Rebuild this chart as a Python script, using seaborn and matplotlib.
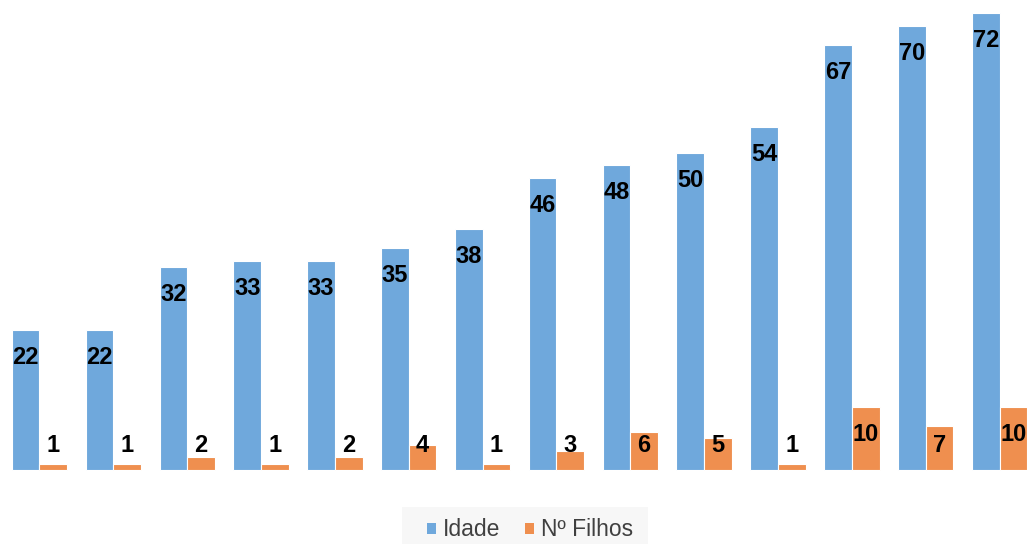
import matplotlib
matplotlib.use("Agg")
import matplotlib.pyplot as plt
from matplotlib.patches import Patch, Rectangle
import seaborn as sns
import pandas as pd

# Series values per person (ordered by age)
idade = [22, 22, 32, 33, 33, 35, 38, 46, 48, 50, 54, 67, 70, 72]
filhos = [1, 1, 2, 1, 2, 4, 1, 3, 6, 5, 1, 10, 7, 10]
series_names = ["Idade", "Nº Filhos"]
colors = ["#6FA8DC", "#EF8F4F"]

n = len(idade)
df = pd.DataFrame({
    "pessoa": list(range(n)) * 2,
    "valor": idade + filhos,
    "serie": [series_names[0]] * n + [series_names[1]] * n,
})

sns.set_theme(style="white")
plt.rcParams["font.family"] = ["Liberation Sans", "DejaVu Sans"]

W, H, DPI = 1027, 544, 100
fig = plt.figure(figsize=(W / DPI, H / DPI), dpi=DPI)
ax = fig.add_axes([0, 0, 1, 1])

sns.barplot(data=df, x="pessoa", y="valor", hue="serie",
            palette=colors, saturation=1, width=0.75, gap=0, dodge=True,
            edgecolor="white", linewidth=0.8, legend=False, ax=ax)

# Axis scaling: bar baseline and group spacing in pixels
px_per_unit = 6.347
base_px = 74
group_px = 73.85
first_center_px = 39.5
ax.set_xlim(-first_center_px / group_px, (W - first_center_px) / group_px)
ax.set_ylim(-base_px / px_per_unit, (H - base_px) / px_per_unit)
ax.axis("off")

# Value labels: inside the top of each bar, never lower than a minimum height
offset = 27.5 / px_per_unit
min_y = 24 / px_per_unit
bw = 0.75 / 2
for vals, shift in ((idade, -bw / 2), (filhos, bw / 2)):
    for i, v in enumerate(vals):
        y = max(v - offset, min_y)
        ax.text(i + shift, y, str(v), ha="center", va="center",
                fontsize=17, fontweight="bold", color="black")

# Legend on a light panel at the bottom
fig.patches.append(Rectangle((402 / W, 0), 246 / W, 37 / H,
                             transform=fig.transFigure, facecolor="#F7F7F7",
                             edgecolor="none", zorder=0))
handles = [Patch(facecolor=c, edgecolor="none", label=s)
           for s, c in zip(series_names, colors)]
fig.legend(handles=handles, loc="center", bbox_to_anchor=(530 / W, 14 / H),
           ncol=2, frameon=False, fontsize=16.5, handlelength=0.4,
           handleheight=0.4, handletextpad=0.3, columnspacing=1.1,
           borderpad=0, labelcolor="#404040")

fig.savefig("out.png", dpi=DPI)
